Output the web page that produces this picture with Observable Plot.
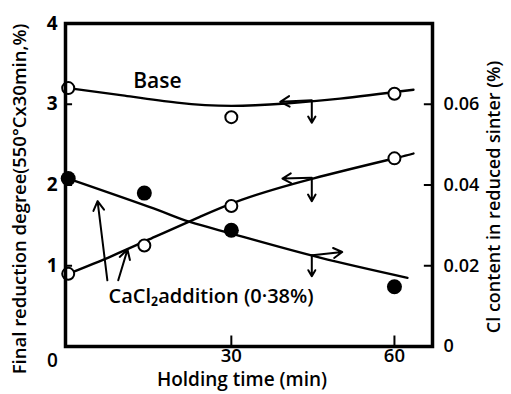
<!DOCTYPE html>
<html><head><meta charset="utf-8">
<script src="https://cdn.jsdelivr.net/npm/d3@7"></script>
<script src="https://cdn.jsdelivr.net/npm/@observablehq/plot@0.6"></script>
<style>body{margin:0;background:#fff}</style>
</head><body><div id="chart"></div>
<script>
// Measured data (holding time, min)
const baseTime = [0, 30, 60];
const baseReduction = [3.2, 2.84, 3.13];
const cacl2Time = [0, 14, 30, 60];
const cacl2Reduction = [0.9, 1.25, 1.74, 2.33];
const clTime = [0, 14, 30, 60];
const clContent = [0.0416, 0.038, 0.0288, 0.0148]; // % Cl, right axis
// Fitted curves (as drawn)
const baseCurveT = [0, 10, 20, 30, 40, 50, 63.5];
const baseCurveV = [3.2, 3.11, 3.02, 2.98, 3.01, 3.07, 3.18];
const riseCurveT = [0, 8, 16, 24, 32, 45, 60, 63.5];
const riseCurveV = [0.9, 1.12, 1.36, 1.6, 1.82, 2.08, 2.33, 2.39];
const fallCurveT = [0, 15.7, 21.6, 31.5, 46.3, 62.4];
const fallCurveC = [0.0416, 0.0342, 0.0312, 0.0274, 0.022, 0.017];
// Axes
const xTicks = [30, 60];
const yTicks = [1, 2, 3, 4];
const clTicks = [0, 0.02, 0.04, 0.06];
const clToLeft = 50; // 0.02 % Cl aligns with 1 on the left axis
// Annotation arrows [t1, v1, t2, v2]
const arrows = [
  [44.8, 3.05, 39, 3.03], [44.8, 3.04, 44.8, 2.77],
  [44.8, 2.09, 39.4, 2.08], [44.8, 2.08, 44.8, 1.8],
  [44.9, 1.13, 50.4, 1.17], [44.8, 1.13, 44.8, 0.87],
  [7.2, 0.82, 5.4, 1.8], [9.2, 0.82, 10.9, 1.2]
];
const baseLabel = [{t: 16.4, v: 3.29, text: "Base"}];
const cacl2Label = [{t: 7.4, v: 0.62, text: "CaCl₂addition (0·38%)"}];

const zip = (a, b) => a.map((t, i) => ({t, v: b[i]}));
const font = "'Open Sans', sans-serif";

const chart = Plot.plot({
  width: 511, height: 394,
  marginLeft: 65, marginRight: 79, marginTop: 23, marginBottom: 48,
  style: {fontFamily: font, fontSize: "18px", color: "#000", background: "#fff"},
  x: {domain: [-0.5, 67], axis: null},
  y: {domain: [0, 4], axis: null},
  marks: [
    Plot.line(zip(baseCurveT, baseCurveV), {x: "t", y: "v", curve: "natural", strokeWidth: 2.4, stroke: "#000"}),
    Plot.line(zip(riseCurveT, riseCurveV), {x: "t", y: "v", curve: "natural", strokeWidth: 2.4, stroke: "#000"}),
    Plot.line(zip(fallCurveT, fallCurveC.map(c => c * clToLeft)), {x: "t", y: "v", curve: "natural", strokeWidth: 2.4, stroke: "#000"}),
    Plot.arrow(arrows, {x1: d => d[0], y1: d => d[1], x2: d => d[2], y2: d => d[3], stroke: "#000", strokeWidth: 2, headLength: 8, bend: 0}),
    Plot.dot(zip(baseTime, baseReduction), {x: "t", y: "v", r: 6, fill: "#fff", stroke: "#000", strokeWidth: 2}),
    Plot.dot(zip(cacl2Time, cacl2Reduction), {x: "t", y: "v", r: 6, fill: "#fff", stroke: "#000", strokeWidth: 2}),
    Plot.dot(zip(clTime, clContent.map(c => c * clToLeft)), {x: "t", y: "v", r: 7.5, fill: "#000"}),
    Plot.text(baseLabel, {x: "t", y: "v", text: "text", fontSize: 21, fontWeight: 600}),
    Plot.text(cacl2Label, {x: "t", y: "v", text: "text", textAnchor: "start", fontSize: 20, fontWeight: 600}),
    Plot.frame({stroke: "#000", strokeWidth: 3.5}),
    // x ticks
    Plot.ruleX(xTicks, {y1: 0, y2: 0.13, stroke: "#000", strokeWidth: 2}),
    Plot.axisX(xTicks, {tickSize: 0, tickPadding: 2, fontSize: 18.5, fontWeight: 600, label: null}),
    // left y ticks
    Plot.ruleY(yTicks, {x1: -0.5, x2: 0.8, stroke: "#000", strokeWidth: 2}),
    Plot.axisY(yTicks, {anchor: "left", tickSize: 0, tickPadding: 8, fontSize: 19, fontWeight: 700, label: null, tickFormat: d => String(d)}),
    Plot.text([0], {x: -0.5, y: 0, text: () => "0", dx: -13, dy: 14, fontSize: 19, fontWeight: 600}),
    // right y ticks (Cl content)
    Plot.ruleY(clTicks.slice(1).map(c => c * clToLeft), {x1: 65.5, x2: 67, stroke: "#000", strokeWidth: 2}),
    Plot.axisY(clTicks.map(c => c * clToLeft), {anchor: "right", tickSize: 0, tickPadding: 11, fontSize: 18, fontWeight: 600, label: null, tickFormat: d => d === 0 ? "0" : (d / clToLeft).toFixed(2)}),
    // titles
    Plot.text(["Final reduction degree(550°Cx30min,%)"], {frameAnchor: "left", textAnchor: "middle", rotate: -90, dx: -45, dy: 14, fontSize: 18.5, fontWeight: 600}),
    Plot.text(["Cl content in reduced sinter (%)"], {frameAnchor: "right", textAnchor: "middle", rotate: -90, dx: 62, dy: 12, fontSize: 18, fontWeight: 600}),
    Plot.text(["Holding time (min)"], {frameAnchor: "bottom", dx: -7, dy: 39, fontSize: 19, fontWeight: 600})
  ]
});
document.getElementById("chart").append(chart);
</script></body></html>
